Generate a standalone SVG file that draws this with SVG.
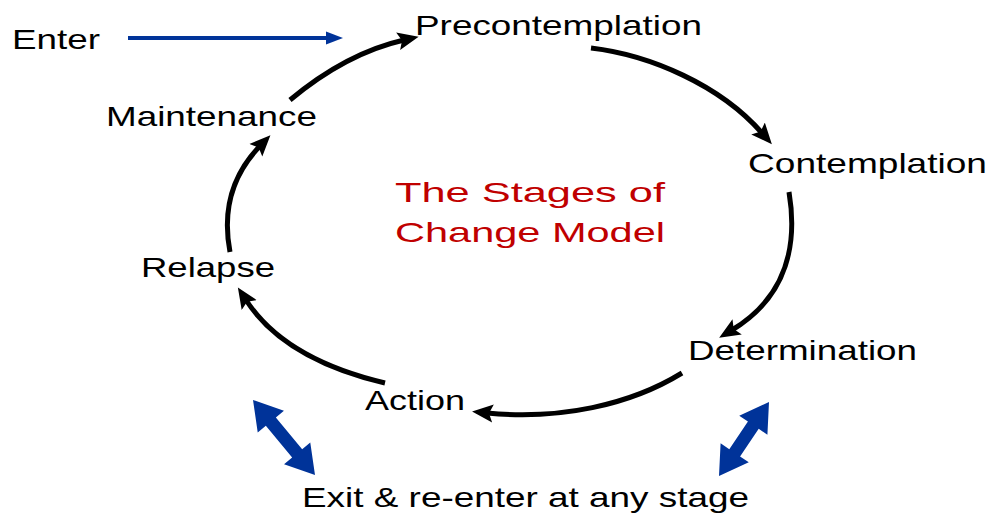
<svg xmlns="http://www.w3.org/2000/svg" width="990" height="513" viewBox="0 0 990 513">
<style>
.lbl{font-family:"Liberation Sans",Arial,sans-serif;font-size:28px;fill:#000}
.title{font-family:"Liberation Sans",Arial,sans-serif;font-size:28px;fill:#c00000}
.arc{fill:none;stroke:#000;stroke-width:5}
.blue{fill:#003399}
</style>
<defs>
<marker id="ah" markerUnits="userSpaceOnUse" markerWidth="22" markerHeight="20" viewBox="0 0 22 20" refX="6" refY="10" orient="auto">
<path d="M0,1 L21,10 L0,19 L4,10 z" fill="#000"/>
</marker>
<marker id="bh" markerUnits="userSpaceOnUse" markerWidth="18" markerHeight="14" viewBox="0 0 18 14" refX="4" refY="7" orient="auto">
<path d="M0,0.5 L17,7 L0,13.5 z" fill="#003399"/>
</marker>
</defs>
<rect width="990" height="513" fill="#fff"/>
<g id="connectors">
<path class="arc" d="M290,100 C320,75 360,50 404,40" marker-end="url(#ah)"/>
<path class="arc" d="M591,48 C650,55 720,85 762,133" marker-end="url(#ah)"/>
<path class="arc" d="M789,192 C797,240 790,295 732,330" marker-end="url(#ah)"/>
<path class="arc" d="M682,373 C630,405 560,420 487,413" marker-end="url(#ah)"/>
<path class="arc" d="M385,383 C330,370 275,345 246,300" marker-end="url(#ah)"/>
<path class="arc" d="M230,252 C222,210 232,175 260,146" marker-end="url(#ah)"/>
<path d="M128,38 L330,38" stroke="#003399" stroke-width="4" fill="none" marker-end="url(#bh)"/>
<polygon class="blue" points="253,400 283.95,410.76 275.85,417.45 302.17,449.27 310.27,442.58 315,475 284.05,464.24 292.15,457.55 265.83,425.73 257.73,432.42"/>
<polygon class="blue" points="769,402 767.41,434.73 758.71,428.85 740.07,456.43 748.77,462.31 719,476 720.59,443.27 729.29,449.15 747.93,421.57 739.23,415.69"/>
</g>
<g id="enter"><text class="lbl" x="12" y="49" textLength="88" lengthAdjust="spacingAndGlyphs">Enter</text></g>
<g id="precontemplation"><text class="lbl" x="415" y="35" textLength="287" lengthAdjust="spacingAndGlyphs">Precontemplation</text></g>
<g id="contemplation"><text class="lbl" x="748" y="173" textLength="239" lengthAdjust="spacingAndGlyphs">Contemplation</text></g>
<g id="determination"><text class="lbl" x="688" y="360" textLength="229" lengthAdjust="spacingAndGlyphs">Determination</text></g>
<g id="action"><text class="lbl" x="365" y="410" textLength="100" lengthAdjust="spacingAndGlyphs">Action</text></g>
<g id="relapse"><text class="lbl" x="141" y="277" textLength="134" lengthAdjust="spacingAndGlyphs">Relapse</text></g>
<g id="maintenance"><text class="lbl" x="106" y="126" textLength="211" lengthAdjust="spacingAndGlyphs">Maintenance</text></g>
<g id="title">
<text class="title" x="395" y="202" textLength="270" lengthAdjust="spacingAndGlyphs">The Stages of</text>
<text class="title" x="395" y="242" textLength="270" lengthAdjust="spacingAndGlyphs">Change Model</text>
</g>
<g id="exit"><text class="lbl" x="302" y="507" textLength="447" lengthAdjust="spacingAndGlyphs">Exit &amp; re-enter at any stage</text></g>
</svg>
